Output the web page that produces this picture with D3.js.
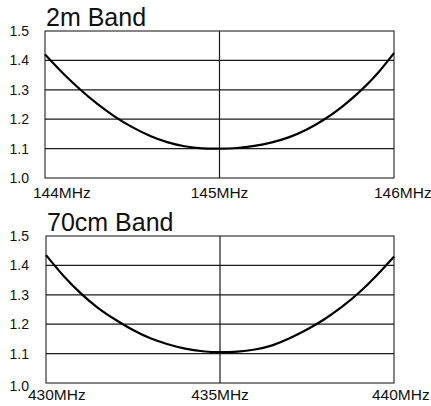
<!DOCTYPE html>
<html><head><meta charset="utf-8">
<script src="https://cdn.jsdelivr.net/npm/d3@7/dist/d3.min.js"></script>
<style>body{margin:0;background:#fff}svg{display:block}text{font-family:"Liberation Sans",Arial,sans-serif;fill:#111}</style>
</head><body><svg id="c" width="431" height="406"></svg>
<script>
const yTicks = [1.0, 1.1, 1.2, 1.3, 1.4, 1.5];
const yTickLabels = ["1.0", "1.1", "1.2", "1.3", "1.4", "1.5"];

const band2mTitle = "2m Band";
const band2mFreq = [144.0,144.1,144.2,144.3,144.4,144.5,144.6,144.7,144.8,144.9,145.0,145.1,145.2,145.3,145.4,145.5,145.6,145.7,145.8,145.9,146.0];
const band2mSWR  = [1.42,1.358,1.302,1.252,1.209,1.173,1.144,1.122,1.108,1.101,1.10,1.102,1.109,1.121,1.139,1.165,1.199,1.241,1.292,1.352,1.425];
const band2mXTicks = [144, 145, 146];
const band2mXLabels = ["144MHz", "145MHz", "146MHz"];

const band70Title = "70cm Band";
const band70Freq = [430,430.5,431,431.5,432,432.5,433,433.5,434,434.5,435,435.5,436,436.5,437,437.5,438,438.5,439,439.5,440];
const band70SWR  = [1.435,1.365,1.305,1.255,1.215,1.18,1.152,1.132,1.117,1.108,1.105,1.107,1.114,1.128,1.152,1.182,1.217,1.259,1.308,1.366,1.43];
const band70XTicks = [430, 435, 440];
const band70XLabels = ["430MHz", "435MHz", "440MHz"];

const svg = d3.select("#c");

function panel(opt){
  const g = svg.append("g");
  const x = d3.scaleLinear().domain([opt.xt[0], opt.xt[2]]).range([opt.left, opt.right]);
  const y = d3.scaleLinear().domain([1.0, 1.5]).range([opt.bottom, opt.top]);
  g.selectAll("line.grid").data(yTicks.slice(1, 5)).join("line")
    .attr("x1", opt.left).attr("x2", opt.right)
    .attr("y1", d => y(d)).attr("y2", d => y(d))
    .attr("stroke", "#1a1a1a").attr("stroke-width", 1.3);
  g.append("line").attr("x1", x(opt.xt[1])).attr("x2", x(opt.xt[1]))
    .attr("y1", opt.top).attr("y2", opt.bottom).attr("stroke", "#1a1a1a").attr("stroke-width", 1.2);
  g.append("rect").attr("x", opt.left).attr("y", opt.top)
    .attr("width", opt.right - opt.left).attr("height", opt.bottom - opt.top)
    .attr("fill", "none").attr("stroke", "#222").attr("stroke-width", 1.1);
  g.append("path").datum(opt.f.map((f, i) => [f, opt.v[i]]))
    .attr("d", d3.line().x(d => x(d[0])).y(d => y(d[1])).curve(d3.curveNatural))
    .attr("fill", "none").attr("stroke", "#000").attr("stroke-width", 2.2);
  g.selectAll("text.yl").data(yTicks).join("text")
    .attr("x", 29).attr("y", (d, i) => y(d) + 5 + (opt.shiftZero && i === 0 ? 3 : 0))
    .attr("text-anchor", "end").attr("font-size", 14).text((d, i) => yTickLabels[i]);
  const xl = opt.xlPos;
  g.selectAll("text.xl").data(opt.xt).join("text")
    .attr("x", (d, i) => i === 1 ? x(d) : xl[i])
    .attr("y", opt.xlY)
    .attr("text-anchor", (d, i) => i === 1 ? "middle" : "start")
    .attr("font-size", 15.5).text((d, i) => opt.xlab[i]);
  g.append("text").attr("x", opt.left + 1).attr("y", opt.titleY)
    .attr("font-size", 25).text(opt.title);
}

panel({title: band2mTitle, f: band2mFreq, v: band2mSWR, xt: band2mXTicks, xlab: band2mXLabels,
  left: 45, right: 394, top: 31, bottom: 178, titleY: 26, xlY: 198, xlPos: [33, 0, 374]});
panel({title: band70Title, f: band70Freq, v: band70SWR, xt: band70XTicks, xlab: band70XLabels,
  left: 46, right: 394, top: 236, bottom: 383, titleY: 231, xlY: 400, xlPos: [28, 0, 372], shiftZero: true});
</script></body></html>
